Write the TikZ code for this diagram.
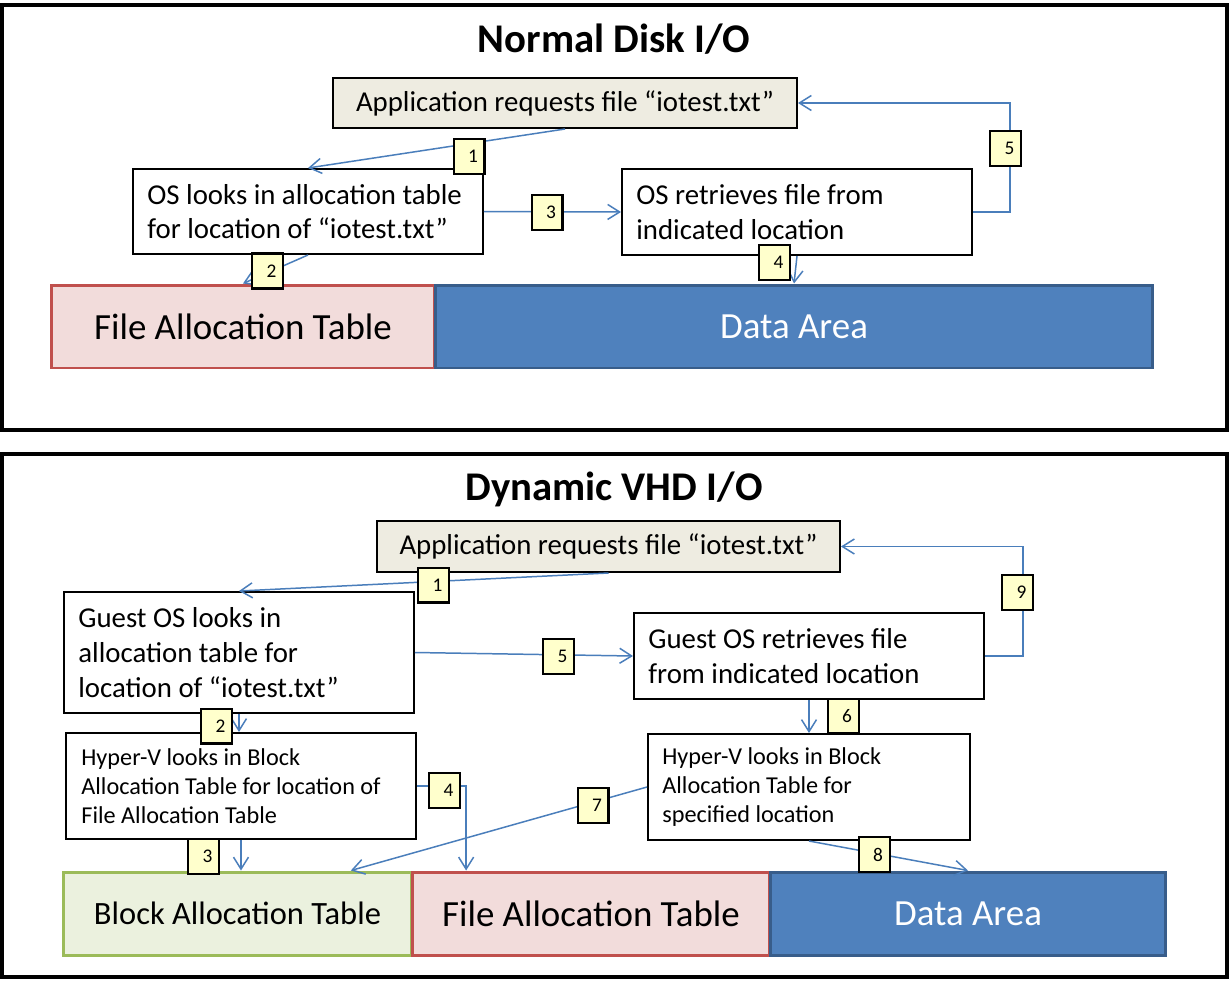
\documentclass[tikz,border=0pt]{standalone}
\usepackage{fontspec}
\setmainfont{Carlito}
\usetikzlibrary{arrows.meta,calc}
\definecolor{appfill}{HTML}{EEECE1}
\definecolor{numfill}{HTML}{FFFFCC}
\definecolor{fatfill}{HTML}{F2DCDB}
\definecolor{fatline}{HTML}{C0504D}
\definecolor{datafill}{HTML}{4F81BD}
\definecolor{dataline}{HTML}{385D8A}
\definecolor{batfill}{HTML}{EBF1DE}
\definecolor{batline}{HTML}{9BBB59}
\definecolor{arrowc}{HTML}{4A7EBB}
\newcommand\fmain{\fontsize{16.4pt}{19.8pt}\selectfont}
\newcommand\fsmall{\fontsize{13.8pt}{16.4pt}\selectfont}
\newcommand\fbar{\fontsize{21pt}{25pt}\selectfont}
\newcommand\fbat{\fontsize{18.5pt}{22pt}\selectfont}
\newcommand\ftitle{\fontsize{23.2pt}{28pt}\selectfont\bfseries}
\newcommand\fnum{\fontsize{11pt}{13pt}\selectfont}
\tikzset{
  frame/.style={draw=black, line width=2.3pt, fill=white, inner sep=0},
  box/.style={draw=black, line width=1.15pt, fill=white, inner sep=0},
  appbox/.style={box, fill=appfill, font=\fmain},
  txt/.style={inner sep=0, align=left, anchor=west},
  fatbar/.style={draw=fatline, fill=fatfill, line width=1.7pt, inner sep=0, font=\fbar},
  databar/.style={draw=dataline, fill=datafill, line width=1.7pt, inner sep=0, font=\fbar, text=white},
  batbar/.style={draw=batline, fill=batfill, line width=1.7pt, inner sep=0, font=\fbat},
  num/.style={draw=black, line width=1.15pt, fill=numfill, minimum width=0.62cm, minimum height=0.7cm, inner sep=0, font=\fnum},
  conn/.style={draw=arrowc, line width=0.85pt, -{Straight Barb[length=0.24cm, width=0.3cm, line width=0.85pt]}},
}
\begin{document}
\begin{tikzpicture}[x=0.02cm, y=-0.02cm]
\useasboundingbox (0,0) rectangle (1229,980);
\fill[white] (0,0) rectangle (1229,980);

% ---------- top panel ----------
\node[frame, minimum width=24.5cm, minimum height=8.5cm] (f1) at (614.5,217.5) {};
\node[anchor=base, font=\ftitle, inner sep=0] (t1) at (614,52) {Normal Disk I/O};

\node[appbox, minimum width=9.28cm, minimum height=1cm] (app) at (565,103) {Application requests file “iotest.txt”};
\node[box, minimum width=7cm, minimum height=1.7cm] (os) at (308,211.5) {};
\node[txt, font=\fmain] (ost) at ([xshift=0.3cm]os.west) {OS looks in allocation table\\for location of “iotest.txt”};
\node[box, minimum width=7cm, minimum height=1.72cm] (or) at (797,212) {};
\node[txt, font=\fmain] (ort) at ([xshift=0.3cm]or.west) {OS retrieves file from\\indicated location};

\node[fatbar, minimum width=7.68cm, minimum height=1.66cm] (fat) at (243,326.5) {File Allocation Table};
\node[databar, minimum width=14.36cm, minimum height=1.66cm] (data) at (794,326.5) {Data Area};

\draw[conn] (app.south) -- (os.north);
\draw[conn] (os.south) -- (fat.north);
\draw[conn] (os.east) -- (or.west);
\draw[conn] (or.south) -- (data.north);
\draw[conn] (or.east) -- ([xshift=0.74cm]or.east) |- (app.east);

\node[num] (n1) at (469,156.5) {\kern0.16cm 1};
\node[num] (n2) at (267.5,271) {\kern0.16cm 2};
\node[num] (n3) at (547,212.5) {\kern0.16cm 3};
\node[num] (n4) at (774.5,262.5) {\kern0.16cm 4};
\node[num] (n5) at (1005.5,148.5) {\kern0.16cm 5};

% ---------- bottom panel ----------
\node[frame, minimum width=24.5cm, minimum height=10.46cm] (f2) at (614.5,715.5) {};
\node[anchor=base, font=\ftitle, inner sep=0] (t2) at (614,500) {Dynamic VHD I/O};

\node[appbox, minimum width=9.26cm, minimum height=1.02cm] (app2) at (608.5,546.5) {Application requests file “iotest.txt”};
\node[box, minimum width=7cm, minimum height=2.42cm] (gos) at (239,652.5) {};
\node[txt, font=\fmain] (gost) at ([xshift=0.3cm]gos.west) {Guest OS looks in\\allocation table for\\location of “iotest.txt”};
\node[box, minimum width=7cm, minimum height=2.12cm] (hv1) at (241,786) {};
\node[txt, font=\fsmall] (hv1t) at ([xshift=0.32cm]hv1.west) {Hyper-V looks in Block\\Allocation Table for location of\\File Allocation Table};
\node[box, minimum width=7cm, minimum height=1.72cm] (gr) at (809,656) {};
\node[txt, font=\fmain] (grt) at ([xshift=0.3cm]gr.west) {Guest OS retrieves file\\from indicated location};
\node[box, minimum width=6.44cm, minimum height=2.12cm] (hv2) at (809,787) {};
\node[txt, font=\fsmall] (hv2t) at ([xshift=0.3cm]hv2.west) {Hyper-V looks in Block\\Allocation Table for\\specified location};

\node[batbar, minimum width=6.98cm, minimum height=1.66cm] (bat) at (237.5,913.5) {Block Allocation Table};
\node[fatbar, minimum width=7.16cm, minimum height=1.66cm] (fat2) at (591,913.5) {File Allocation Table};
\node[databar, minimum width=7.92cm, minimum height=1.66cm] (data2) at (968,913.5) {Data Area};

\draw[conn] (app2.south) -- (gos.north);
\draw[conn] (gos.south) -- (gos.south |- hv1.north);
\draw[conn] (hv1.south) -- (hv1.south |- bat.north);
\draw[conn] (hv1.east) -| ($(fat2.north west)!0.154!(fat2.north east)$);
\draw[conn] (gos.east) -- (gr.west);
\draw[conn] (gr.south) -- (hv2.north);
\draw[conn] (hv2.west) -- ($(bat.north west)!0.822!(bat.north east)$);
\draw[conn] (hv2.south) -- (data2.north);
\draw[conn] (gr.east) -- ([xshift=0.76cm]gr.east) |- (app2.east);

\node[num] (m1) at (433.5,585) {\kern0.16cm 1};
\node[num] (m2) at (216.5,726) {\kern0.16cm 2};
\node[num] (m3) at (203.5,856.5) {\kern0.16cm 3};
\node[num] (m4) at (444.5,790.5) {\kern0.16cm 4};
\node[num] (m5) at (558.5,656.5) {\kern0.16cm 5};
\node[num] (m6) at (843,716) {\kern0.16cm 6};
\node[num] (m7) at (593,805) {\kern0.16cm 7};
\node[num] (m8) at (874,854.5) {\kern0.16cm 8};
\node[num] (m9) at (1017.5,592.5) {\kern0.16cm 9};
\end{tikzpicture}
\end{document}
